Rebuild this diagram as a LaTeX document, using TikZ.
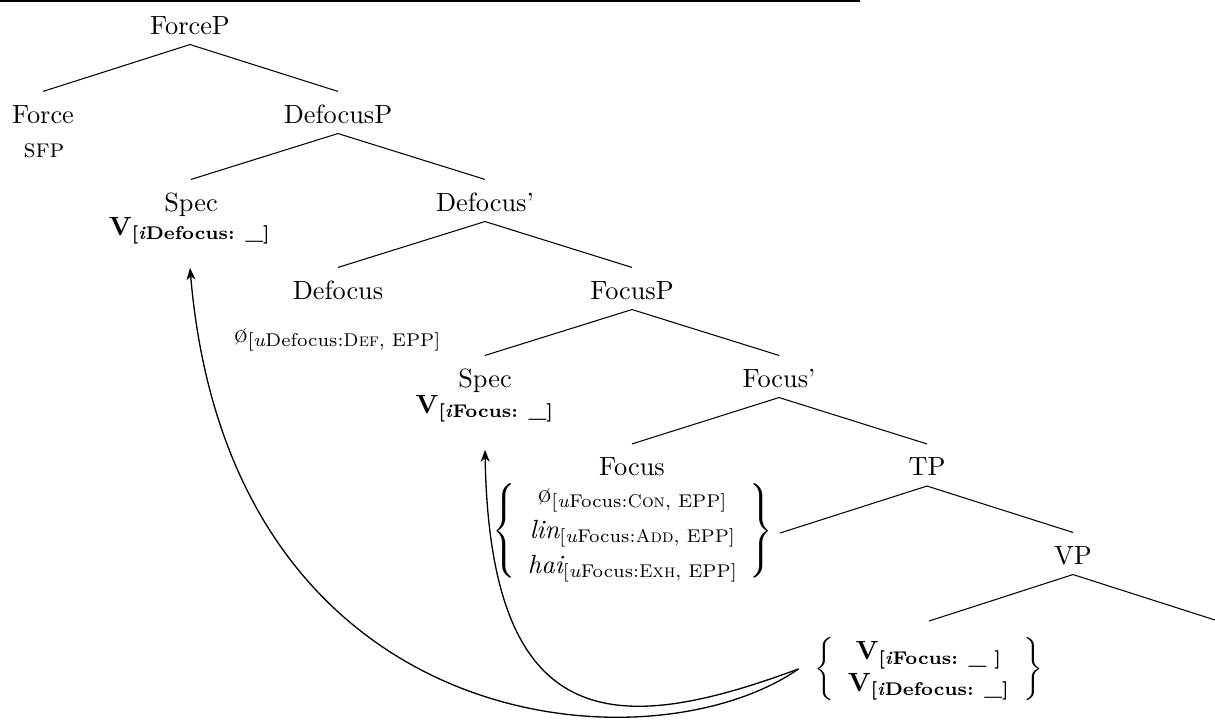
\documentclass[tikz,border=0pt]{standalone}
\usepackage{amsmath}
\usetikzlibrary{arrows.meta}
\newcommand{\subf}[1]{$_{\text{#1}}$}
\begin{document}
\begin{tikzpicture}[x=0.38pt,y=-0.38pt,
  tn/.style={anchor=base, inner sep=0pt, text height=11.8pt, text depth=3.8pt},
  lbl/.style={anchor=base, inner sep=0pt},
  br/.style={line width=0.4pt},
  mv/.style={-{Stealth[length=4.5pt,width=3.4pt,inset=1.3pt]}, line width=0.5pt}]
\useasboundingbox (0,0) rectangle (1215,724);
\draw[line width=0.9pt] (0,1) -- (860,1);
% nodes
\node[tn] (ForceP) at (190,34) {ForceP};
\node[tn] (Force) at (43,123) {Force};
\node[lbl] (SFP) at (44,157) {\textsc{sfp}};
\node[tn] (DefocusP) at (338,123) {DefocusP};
\node[tn] (SpecA) at (191,211) {Spec};
\node[lbl] (VA) at (190,235) {\textbf{V\subf{\bfseries[\textit{i}Defocus: \_]}}};
\node[tn] (DefocusBar) at (485,211) {Defocus'};
\node[tn] (Defocus) at (338,299) {Defocus};
\node[lbl] (DefSub) at (338,342) {\o\subf{[\textit{u}Defocus:\textsc{Def}, EPP]}};
\node[tn] (FocusP) at (632,299) {FocusP};
\node[tn] (SpecB) at (485,387) {Spec};
\node[lbl] (VB) at (485,413) {\textbf{V\subf{\bfseries[\textit{i}Focus: \_]}}};
\node[tn] (FocusBar) at (779,387) {Focus'};
\node[tn] (Focus) at (632,475.5) {Focus};
\node[inner sep=0pt] (FocusBlock) at (633,531) {$\renewcommand{\arraystretch}{1.11}\left\{\begin{array}{@{\hspace{4.5pt}}c@{\hspace{4.5pt}}}
  \text{\o}_{\text{[\textit{u}Focus:\textsc{Con}, EPP]}}\\
  \textit{lin}_{\text{[\textit{u}Focus:\textsc{Add}, EPP]}}\\
  \textit{hai}_{\text{[\textit{u}Focus:\textsc{Exh}, EPP]}}
  \end{array}\right\}$};
\node[tn] (TP) at (927,475.5) {TP};
\coordinate (T) at (780,533);
\node[tn] (VP) at (1073,564) {VP};
\node[anchor=north, inner xsep=0pt, inner ysep=6pt] (Vb) at (929,621) {$\left\{\begin{array}{@{\hspace{5pt}}c@{\hspace{5pt}}}
  \textbf{V}_{\text{\bfseries[\textit{i}Focus: \_ ]}}\\
  \textbf{V}_{\text{\bfseries[\textit{i}Defocus: \_]}}
  \end{array}\right\}$};
\coordinate (VR) at (1215,620);
% branches
\draw[br] (ForceP.south) -- (Force.north);
\draw[br] (ForceP.south) -- (DefocusP.north);
\draw[br] (DefocusP.south) -- (SpecA.north);
\draw[br] (DefocusP.south) -- (DefocusBar.north);
\draw[br] (DefocusBar.south) -- (Defocus.north);
\draw[br] (DefocusBar.south) -- (FocusP.north);
\draw[br] (FocusP.south) -- (SpecB.north);
\draw[br] (FocusP.south) -- (FocusBar.north);
\draw[br] (FocusBar.south) -- (Focus.north);
\draw[br] (FocusBar.south) -- (TP.north);
\draw[br] (TP.south) -- (T);
\draw[br] (TP.south) -- (VP.north);
\draw[br] (VP.south) -- (Vb.north);
\draw[br] (VP.south) -- (VR);
% movement arrows
\draw[mv] ([xshift=-6pt]Vb.west) .. controls (650,772) and (230,740) .. ([yshift=-12.5pt]VA.base);
\draw[mv] ([xshift=-6pt]Vb.west) .. controls (620,735) and (490,740) .. ([yshift=-14pt]VB.base);
\end{tikzpicture}
\end{document}
